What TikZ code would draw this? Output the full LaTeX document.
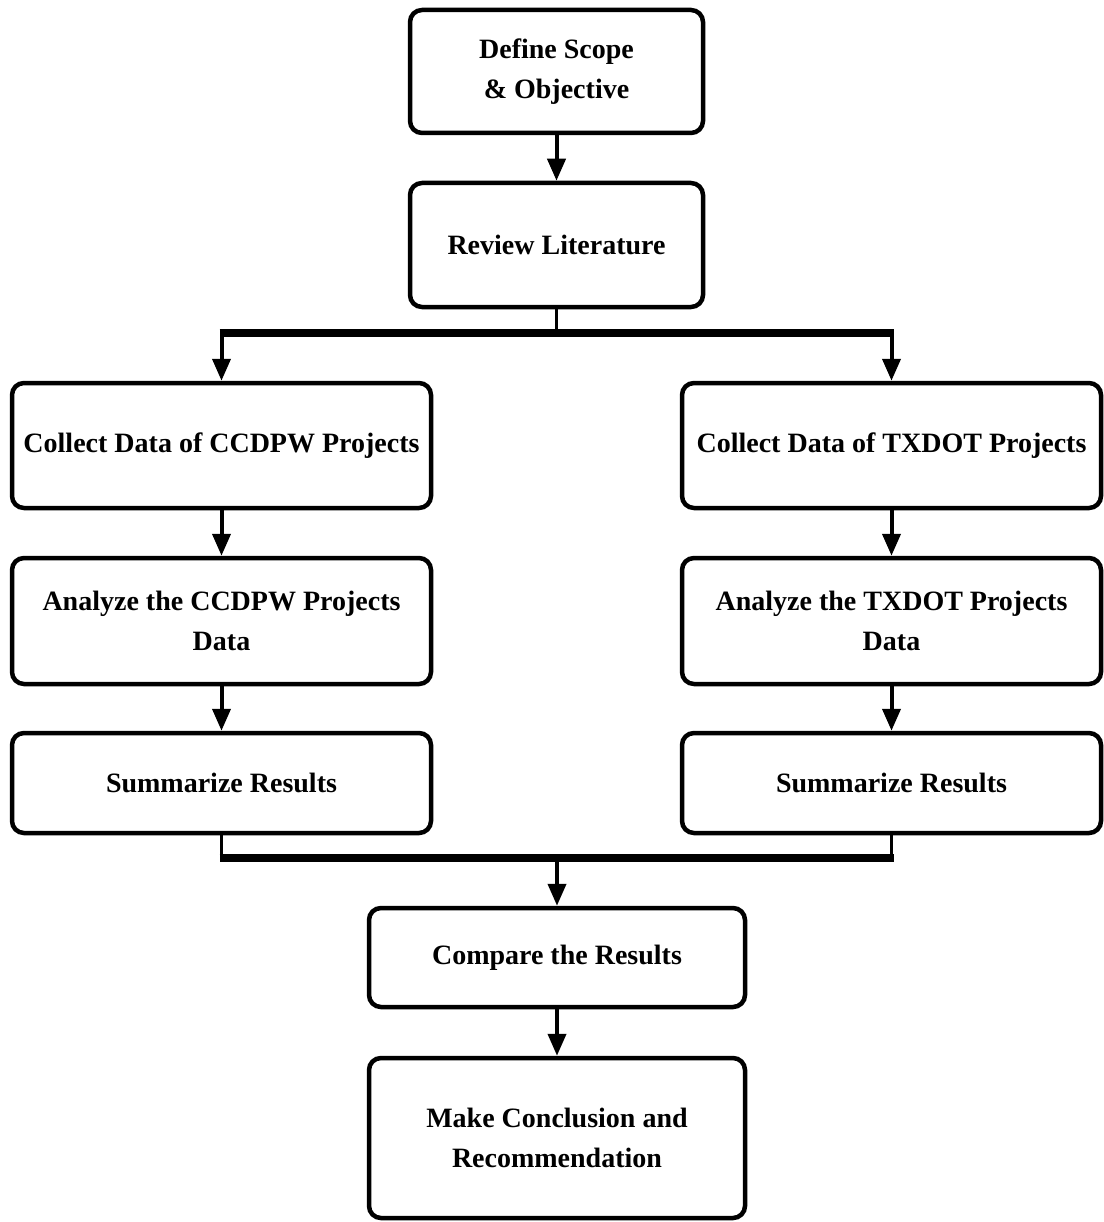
\documentclass[tikz,border=0pt]{standalone}
\usepackage{fontspec}
\setmainfont{Liberation Serif}
\usetikzlibrary{arrows.meta}
\begin{document}
\begin{tikzpicture}[x=1pt,y=-1pt,
  box/.style={draw=black, line width=4.5pt, rounded corners=12pt, fill=white,
    inner sep=0pt, align=center, font=\fontsize{28}{40}\selectfont\bfseries},
  arr/.style={line width=4pt, -{Triangle[length=22pt,width=18pt]}},
  bar/.style={line width=8pt},
  stem/.style={line width=3.5pt}]
\useasboundingbox (0,0) rectangle (1103,1222);
\node[box, minimum width=293pt, minimum height=123pt] (scope) at (556.5,71.5) {Define Scope\\\& Objective};
\node[box, minimum width=293pt, minimum height=124pt] (lit) at (556.5,245) {Review Literature};
\node[box, minimum width=419pt, minimum height=125pt] (cl) at (221.5,445.5) {Collect Data of CCDPW Projects};
\node[box, minimum width=419pt, minimum height=126pt] (al) at (221.5,621) {Analyze the CCDPW Projects\\Data};
\node[box, minimum width=419pt, minimum height=100pt] (sl) at (221.5,783) {Summarize Results};
\node[box, minimum width=419pt, minimum height=125pt] (cr) at (891.5,445.5) {Collect Data of TXDOT Projects};
\node[box, minimum width=419pt, minimum height=126pt] (ar) at (891.5,621) {Analyze the TXDOT Projects\\Data};
\node[box, minimum width=419pt, minimum height=100pt] (sr) at (891.5,783) {Summarize Results};
\node[box, minimum width=376pt, minimum height=99pt] (cmp) at (557,957.5) {Compare the Results};
\node[box, minimum width=376pt, minimum height=160pt] (mk) at (557,1138) {Make Conclusion and\\Recommendation};
\coordinate (s1) at (556.5,333);
\coordinate (s1l) at (221.5,333);
\coordinate (s1r) at (891.5,333);
\coordinate (s2) at (557,858);
\coordinate (s2l) at (221.5,858);
\coordinate (s2r) at (891.5,858);
\draw[arr] (scope.south) -- (lit.north);
\draw[stem] (lit.south) -- (s1);
\draw[bar] ([xshift=-2pt]s1l) -- ([xshift=2pt]s1r);
\draw[arr] ([yshift=-4pt]s1l) -- (cl.north);
\draw[arr] ([yshift=-4pt]s1r) -- (cr.north);
\draw[arr] (cl.south) -- (al.north);
\draw[arr] (al.south) -- (sl.north);
\draw[arr] (cr.south) -- (ar.north);
\draw[arr] (ar.south) -- (sr.north);
\draw[stem] (sl.south) -- (s2l);
\draw[stem] (sr.south) -- (s2r);
\draw[bar] ([xshift=-2pt]s2l) -- ([xshift=2pt]s2r);
\draw[arr] (s2) -- (cmp.north);
\draw[arr] (cmp.south) -- (mk.north);
\end{tikzpicture}
\end{document}
